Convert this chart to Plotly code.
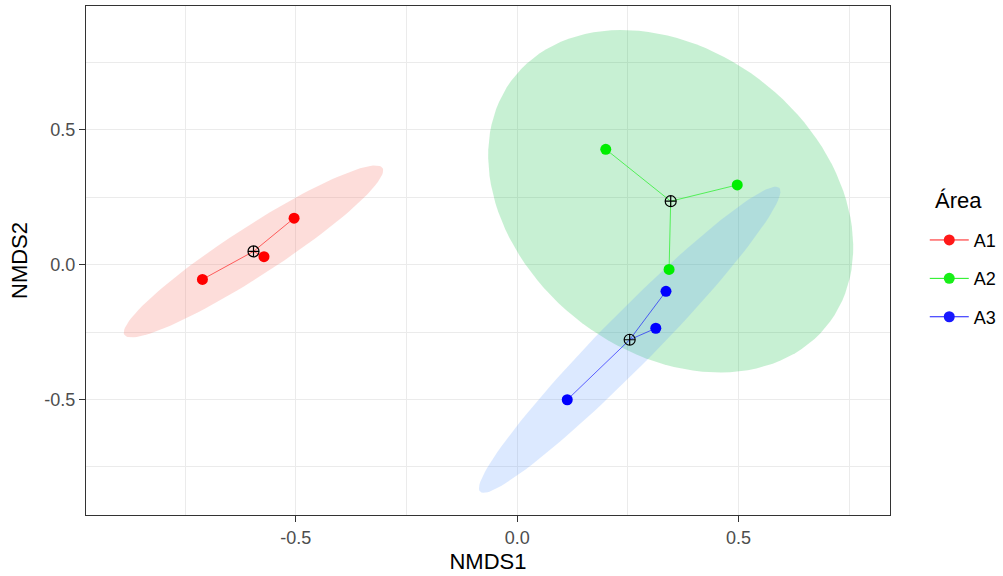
import numpy as np
import plotly.graph_objects as go

# ---- data ----
groups = ["A1", "A2", "A3"]
a1_x = [-0.711, -0.504, -0.572]
a1_y = [-0.055, 0.172, 0.029]
a2_x = [0.200, 0.497, 0.343]
a2_y = [0.427, 0.295, -0.018]
a3_x = [0.336, 0.313, 0.113]
a3_y = [-0.099, -0.236, -0.501]

x_tickvals = [-0.5, 0.0, 0.5]
x_ticktext = ["-0.5", "0.0", "0.5"]
y_tickvals = [-0.5, 0.0, 0.5]
y_ticktext = ["-0.5", "0.0", "0.5"]
legend_title = "Área"

point_colors = ["#FF0000", "#00EE00", "#0000FF"]
fill_colors = ["rgba(248,118,109,0.25)", "rgba(0,186,56,0.22)", "rgba(97,156,255,0.22)"]
ellipse_scale = 2.776

data = {"A1": (a1_x, a1_y), "A2": (a2_x, a2_y), "A3": (a3_x, a3_y)}

FONT = "Liberation Sans, Arial, sans-serif"

fig = go.Figure()

# ellipses (covariance ellipses around group centroids)
t = np.linspace(0, 2 * np.pi, 121)
for g, fc in zip(groups, fill_colors):
    xs, ys = np.array(data[g][0]), np.array(data[g][1])
    c = np.array([xs.mean(), ys.mean()])
    cov = np.cov(np.vstack([xs, ys]))
    vals, vecs = np.linalg.eigh(cov)
    circ = np.vstack([np.cos(t), np.sin(t)])
    pts = (vecs @ np.diag(np.sqrt(np.maximum(vals, 0))) @ circ) * ellipse_scale
    ex = pts[0] + c[0]
    ey = pts[1] + c[1]
    fig.add_trace(go.Scatter(x=ex, y=ey, mode="lines", fill="toself", fillcolor=fc,
                             line=dict(width=0), hoverinfo="skip", showlegend=False))

# spider lines and points
for g, col in zip(groups, point_colors):
    xs, ys = data[g]
    cx, cy = float(np.mean(xs)), float(np.mean(ys))
    lx, ly = [], []
    for xi, yi in zip(xs, ys):
        lx += [cx, xi, None]
        ly += [cy, yi, None]
    fig.add_trace(go.Scatter(x=lx, y=ly, mode="lines", line=dict(color=col, width=0.9),
                             opacity=0.65, showlegend=False, hoverinfo="skip"))
    fig.add_trace(go.Scatter(x=xs, y=ys, mode="markers", marker=dict(color=col, size=11),
                             showlegend=False, name=g))
    fig.add_trace(go.Scatter(x=[cx], y=[cy], mode="markers",
                             marker=dict(symbol="circle-cross-open", color="black", size=11,
                                         line=dict(width=1.2, color="black")),
                             showlegend=False, hoverinfo="skip"))

# legend entries
for g, col in zip(groups, point_colors):
    fig.add_trace(go.Scatter(x=[None], y=[None], mode="lines+markers", name=g, legendgroup=g,
                             line=dict(color=col, width=1), opacity=0.9,
                             marker=dict(color=col, size=11)))

axis_common = dict(
    showgrid=True, gridcolor="#EBEBEB", gridwidth=1, zeroline=False,
    showline=True, linecolor="#333333", linewidth=1.2, mirror=True,
    ticks="outside", ticklen=6, tickcolor="#333333", tickwidth=1,
    tickfont=dict(family=FONT, size=18, color="#4D4D4D"),
    title_font=dict(family=FONT, size=22, color="black"),
)

fig.update_layout(
    width=1003, height=576,
    margin=dict(l=86, r=113, t=6, b=61),
    plot_bgcolor="white", paper_bgcolor="white",
    font=dict(family=FONT),
    xaxis=dict(range=[-0.974, 0.842], tickvals=x_tickvals, ticktext=x_ticktext,
               title=dict(text="NMDS1", standoff=6),
               minor=dict(dtick=0.25, tick0=0.25, showgrid=True, gridcolor="#EBEBEB", gridwidth=1, ticks=""),
               **axis_common),
    yaxis=dict(range=[-0.928, 0.958], tickvals=y_tickvals, ticktext=y_ticktext,
               title=dict(text="NMDS2", standoff=10),
               minor=dict(dtick=0.25, tick0=0.25, showgrid=True, gridcolor="#EBEBEB", gridwidth=1, ticks=""),
               **axis_common),
    legend=dict(font=dict(size=18, color="black"),
                x=0.922, xref="container", xanchor="left",
                y=0.615, yref="container", yanchor="top",
                tracegroupgap=12, itemwidth=39),
    annotations=[dict(text=legend_title, x=933 / 1003, y=1 - 200 / 576,
                      xref="paper", yref="paper", showarrow=False,
                      xanchor="left", yanchor="middle",
                      font=dict(family=FONT, size=22, color="black"))],
)
# annotation coordinates are in paper space; convert container fraction
fig.layout.annotations[0].x = (933 - 86) / (1003 - 86 - 113)
fig.layout.annotations[0].y = (576 - 61 - 200) / (576 - 6 - 61)

fig.write_html("out.html", post_script="document.body.style.margin='0';",
               config={"displayModeBar": False})
